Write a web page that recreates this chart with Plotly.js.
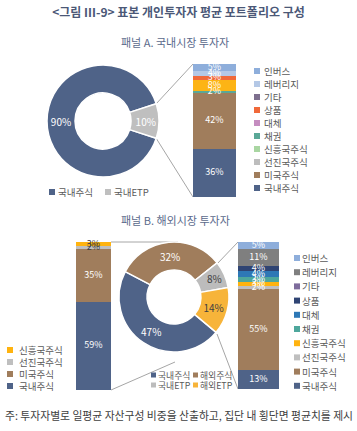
<!DOCTYPE html>
<html><head><meta charset="utf-8">
<script src="https://cdn.plot.ly/plotly-3.0.1.min.js"></script>
<style>html,body{margin:0;padding:0;background:#fff;}</style>
</head><body><div id="chart" style="width:357px;height:431px;"></div>
<script>
// ---- data ----
const titleText = '&lt;그림 III-9&gt; 표본 개인투자자 평균 포트폴리오 구성';
const panelATitle = '패널 A. 국내시장 투자자';
const panelBTitle = '패널 B. 해외시장 투자자';
const footnote = '주: 투자자별로 일평균 자산구성 비중을 산출하고, 집단 내 횡단면 평균치를 제시';

const pieALabels = ['국내주식', '국내ETP'];
const pieAValues = [90, 10];

const assetCategories = ['인버스', '레버리지', '기타', '상품', '대체', '채권', '신흥국주식', '선진국주식', '미국주식', '국내주식'];
const barAValues = [5, 4, 0, 3, 8, 2, 0, 0, 42, 36];

const pieBLabels = ['국내주식', '해외주식', '국내ETP', '해외ETP'];
const pieBValues = [47, 32, 8, 14];

const barBLeftCategories = ['신흥국주식', '선진국주식', '미국주식', '국내주식'];
const barBLeftValues = [3, 2, 35, 59];

const barBRightValues = [5, 11, 0, 4, 4, 3, 3, 2, 55, 13];

// ---- styles ----
const FONT = '"Noto Sans CJK KR", "Noto Sans", sans-serif';
const W = 357, H = 431;
const X = p => p / W;
const Y = p => 1 - p / H;

const pieAColors = ['#4f6388', '#bfbfbf'];
const pieBColors = ['#4f6388', '#a07d5c', '#bcbcbc', '#f7b43a'];
const pieBTextColors = ['#ffffff', '#ffffff', '#404040', '#404040'];

const barAColors = ['#8eaedb', '#b4c8e6', '#7d6f8e', '#f0693a', '#fdb415', '#5aa897', '#a9d6a2', '#bdbdbd', '#a07d5c', '#4f6388'];
const legendAColors = ['#8eaedb', '#b4c8e6', '#7d6f8e', '#f0693a', '#c58dc0', '#5aa897', '#a9d6a2', '#bdbdbd', '#a07d5c', '#4f6388'];
const barBRightColors = ['#8eaedb', '#7f7f7f', '#7e6c9c', '#2f4473', '#2e78b6', '#4ea79c', '#ffb30f', '#bfbfbf', '#a07d5c', '#4f6388'];
const barBLeftColors = ['#ffb30f', '#bfbfbf', '#a07d5c', '#4f6388'];
const barBLeftTextColors = ['#404040', '#404040', '#ffffff', '#ffffff'];

const traces = [];

traces.push({
  type: 'pie', labels: pieALabels, values: pieAValues, sort: false,
  direction: 'clockwise', rotation: 108, hole: 0.5,
  domain: {x: [X(47), X(159)], y: [Y(177), Y(65)]},
  marker: {colors: pieAColors, line: {color: '#ffffff', width: 1.5}},
  text: pieAValues.map(v => v + '%'), textinfo: 'text',
  textposition: 'inside', insidetextorientation: 'horizontal',
  textfont: {family: FONT, size: 10, color: '#ffffff'}, showlegend: false
});

traces.push({
  type: 'pie', labels: pieBLabels, values: pieBValues, sort: false,
  direction: 'clockwise', rotation: 130, hole: 0.49,
  domain: {x: [X(119), X(229)], y: [Y(352), Y(242)]},
  marker: {colors: pieBColors, line: {color: '#ffffff', width: 1.5}},
  text: pieBValues.map(v => v + '%'), textinfo: 'text',
  textposition: 'inside', insidetextorientation: 'horizontal',
  textfont: {family: FONT, size: 10, color: pieBTextColors}, showlegend: false
});

function addStack(cats, vals, colors, textColors, xa, ya) {
  const mids = [], texts = [], tcol = [];
  let cum = 0;
  for (let i = cats.length - 1; i >= 0; i--) {
    traces.push({
      type: 'bar', x: ['s'], y: [vals[i]], name: cats[i], width: [1],
      xaxis: xa, yaxis: ya,
      marker: {color: colors[i], line: {width: 0}},
      textposition: 'none', showlegend: false, hoverinfo: 'skip'
    });
    if (vals[i] > 0) {
      mids.push(cum + vals[i] / 2);
      texts.push(vals[i] + '%');
      tcol.push(textColors ? textColors[i] : '#ffffff');
    }
    cum += vals[i];
  }
  // labels drawn above all segments
  traces.push({
    type: 'scatter', mode: 'text', x: mids.map(() => 's'), y: mids, text: texts,
    xaxis: xa, yaxis: ya, textposition: 'middle center', cliponaxis: false,
    textfont: {family: FONT, size: 9, color: tcol}, showlegend: false, hoverinfo: 'skip'
  });
}
addStack(assetCategories, barAValues, barAColors, null, 'x', 'y');
addStack(barBLeftCategories, barBLeftValues, barBLeftColors, barBLeftTextColors, 'x2', 'y2');
addStack(assetCategories, barBRightValues, barBRightColors, null, 'x3', 'y3');

const sum = a => a.reduce((s, v) => s + v, 0);
function xax(d) { return {domain: d, range: [-0.5, 0.5], type: 'category', visible: false, fixedrange: true}; }
function yax(d, vals) { return {domain: d, range: [0, sum(vals)], visible: false, fixedrange: true}; }

const shapes = [];
const annotations = [];

function line(x0, y0, x1, y1) {
  shapes.push({type: 'line', xref: 'paper', yref: 'paper', x0: X(x0), y0: Y(y0), x1: X(x1), y1: Y(y1),
    line: {color: '#a6a6a6', width: 1}, layer: 'below'});
}
line(156, 104, 193, 64);
line(156, 138, 193, 197);
line(111, 242, 178, 242);
line(111, 390, 175, 362);
line(217, 264, 238, 242);
line(217, 334, 238, 389);

function legendItem(name, color, sx, cy, sq, tx, fs) {
  shapes.push({type: 'rect', xref: 'paper', yref: 'paper', x0: X(sx), x1: X(sx + sq), y0: Y(cy + sq / 2), y1: Y(cy - sq / 2),
    fillcolor: color, line: {width: 0}, layer: 'above'});
  annotations.push({xref: 'paper', yref: 'paper', x: X(tx), y: Y(cy), xanchor: 'left', yanchor: 'middle',
    text: name, showarrow: false, font: {family: FONT, size: fs, color: '#595959'}});
}
// panel A pie legend
legendItem(pieALabels[0], pieAColors[0], 49, 192, 6, 56, 9.5);
legendItem(pieALabels[1], pieAColors[1], 105, 192, 6, 112, 9.5);
// panel A bar legend
assetCategories.forEach((c, i) => legendItem(c, legendAColors[i], 254, 71 + 13 * i, 6, 262, 9.5));
// panel B left legend
barBLeftCategories.forEach((c, i) => legendItem(c, barBLeftColors[i], 7, 350 + 12 * i, 6, 17, 9.5));
// panel B pie legend (2x2)
legendItem(pieBLabels[0], pieBColors[0], 151, 375, 5, 156, 8.8);
legendItem(pieBLabels[1], pieBColors[1], 193, 375, 5, 198, 8.8);
legendItem(pieBLabels[2], pieBColors[2], 151, 385, 5, 156, 8.8);
legendItem(pieBLabels[3], pieBColors[3], 193, 385, 5, 198, 8.8);
// panel B right legend
assetCategories.forEach((c, i) => legendItem(c, barBRightColors[i], 294, 258 + 14.2 * i, 6, 300, 9.5));

annotations.push({xref: 'paper', yref: 'paper', x: X(175), y: Y(42), xanchor: 'center', yanchor: 'middle',
  text: panelATitle, showarrow: false, font: {family: FONT, size: 11, color: '#5b6a8c'}});
annotations.push({xref: 'paper', yref: 'paper', x: X(175), y: Y(220), xanchor: 'center', yanchor: 'middle',
  text: panelBTitle, showarrow: false, font: {family: FONT, size: 11, color: '#5b6a8c'}});
annotations.push({xref: 'paper', yref: 'paper', x: X(3), y: Y(415), xanchor: 'left', yanchor: 'middle',
  text: footnote, showarrow: false, font: {family: FONT, size: 10.8, color: '#404040'}});

const layout = {
  width: W, height: H, margin: {l: 0, r: 0, t: 0, b: 0},
  paper_bgcolor: '#ffffff', plot_bgcolor: 'rgba(0,0,0,0)',
  barmode: 'stack', showlegend: false,
  font: {family: FONT},
  title: {text: titleText, x: 0.5, xanchor: 'center', y: Y(13), yref: 'container', yanchor: 'middle',
    font: {family: FONT, size: 12, color: '#4b5877', weight: 'bold'}},
  xaxis: xax([X(193), X(236)]), yaxis: yax([Y(197), Y(64)], barAValues),
  xaxis2: xax([X(76), X(111)]), yaxis2: yax([Y(390), Y(242)], barBLeftValues),
  xaxis3: xax([X(238), X(279)]), yaxis3: yax([Y(389), Y(242)], barBRightValues),
  shapes: shapes, annotations: annotations
};

Plotly.newPlot('chart', traces, layout, {staticPlot: true, displayModeBar: false});
</script></body></html>
